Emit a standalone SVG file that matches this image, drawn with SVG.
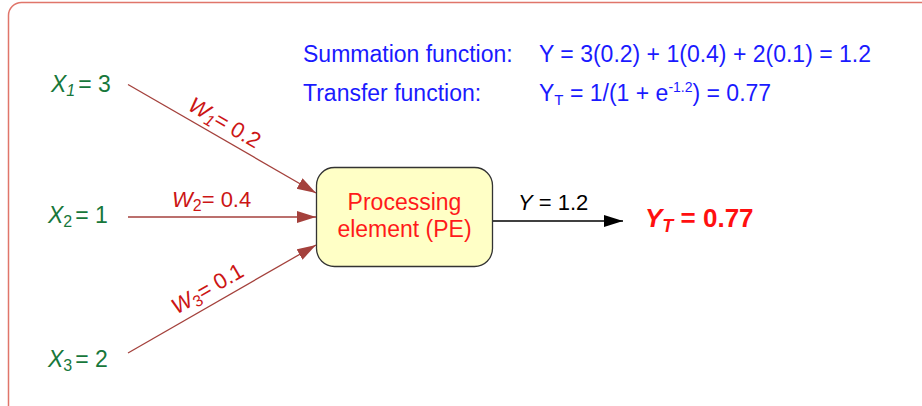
<svg xmlns="http://www.w3.org/2000/svg" width="922" height="406" viewBox="0 0 922 406">
<style>
text{font-family:"Liberation Sans",Arial,sans-serif;}
.x{fill:#17773b;font-size:23px;}
.w{fill:#cc1515;font-size:22px;}
.f{fill:#1a1aff;font-size:23px;}
.pe{fill:#ff1a1a;font-size:23px;}
.sub{font-size:16px;}
.link{stroke:#a4413c;stroke-width:1.3;fill:none;}
.out{stroke:#000;stroke-width:1.3;fill:none;}
</style>
<defs>
<marker id="ah" markerUnits="userSpaceOnUse" markerWidth="20" markerHeight="14" refX="19" refY="6" orient="auto">
<path d="M0,0 L19,6 L0,12 Z" fill="#a4413c"/>
</marker>
<marker id="ahb" markerUnits="userSpaceOnUse" markerWidth="20" markerHeight="14" refX="19" refY="6" orient="auto">
<path d="M0,0 L19,6 L0,12 Z" fill="#000"/>
</marker>
</defs>
<rect x="8.5" y="2.5" width="930" height="420" rx="13" fill="#fff" stroke="#e0756a" stroke-width="1.5"/>

<g id="formulas">
<text class="f" x="303" y="62">Summation function:</text>
<text class="f" x="539" y="62">Y = 3(0.2) + 1(0.4) + 2(0.1) = 1.2</text>
<text class="f" x="303" y="101">Transfer function:</text>
<text class="f" x="539" y="101">Y<tspan font-size="15" dy="4">T</tspan><tspan dy="-4"> = 1/(1 + e</tspan><tspan font-size="14" dy="-9">-1.2</tspan><tspan dy="9">) = 0.77</tspan></text>
</g>

<g id="connectors">
<line class="link" x1="128" y1="84.5" x2="316" y2="193" marker-end="url(#ah)"/>
<line class="link" x1="128" y1="217" x2="316" y2="217" marker-end="url(#ah)"/>
<line class="link" x1="128" y1="353" x2="316" y2="245" marker-end="url(#ah)"/>
<line class="out" x1="492" y1="221" x2="623" y2="221" marker-end="url(#ahb)"/>
<text class="w" transform="translate(221,129) rotate(30)" text-anchor="middle"><tspan font-style="italic">W</tspan><tspan class="sub" font-style="italic" dy="4">1</tspan><tspan dy="-4">= 0.2</tspan></text>
<text class="w" x="172" y="207"><tspan font-style="italic">W</tspan><tspan class="sub" dy="4">2</tspan><tspan dy="-4">= 0.4</tspan></text>
<text class="w" transform="translate(211,295) rotate(-29.8)" text-anchor="middle"><tspan font-style="italic">W</tspan><tspan class="sub" dy="4">3</tspan><tspan dy="-4">= 0.1</tspan></text>
<text x="518" y="210" font-size="22" fill="#000"><tspan font-style="italic">Y</tspan> = 1.2</text>
</g>

<g id="x1"><text class="x" x="51" y="92"><tspan font-style="italic">X</tspan><tspan class="sub" font-style="italic" dy="4">1</tspan><tspan dy="-4" dx="3">= 3</tspan></text></g>
<g id="x2"><text class="x" x="48" y="223"><tspan font-style="italic">X</tspan><tspan class="sub" dy="4">2</tspan><tspan dy="-4" dx="3">= 1</tspan></text></g>
<g id="x3"><text class="x" x="48" y="367"><tspan font-style="italic">X</tspan><tspan class="sub" dy="4">3</tspan><tspan dy="-4" dx="3">= 2</tspan></text></g>

<g id="pe">
<rect x="316.5" y="167.5" width="176" height="99" rx="18" fill="#ffffc6" stroke="#333" stroke-width="1.3"/>
<text class="pe" x="404.5" y="210" text-anchor="middle">Processing</text>
<text class="pe" x="404.5" y="237" text-anchor="middle">element (PE)</text>
</g>

<g id="yt">
<text x="645" y="227" font-size="26" font-weight="bold" font-style="italic" fill="#ff1010">Y<tspan font-size="18" dy="5">T</tspan><tspan dy="-5" font-style="normal"> = 0.77</tspan></text>
</g>
</svg>
